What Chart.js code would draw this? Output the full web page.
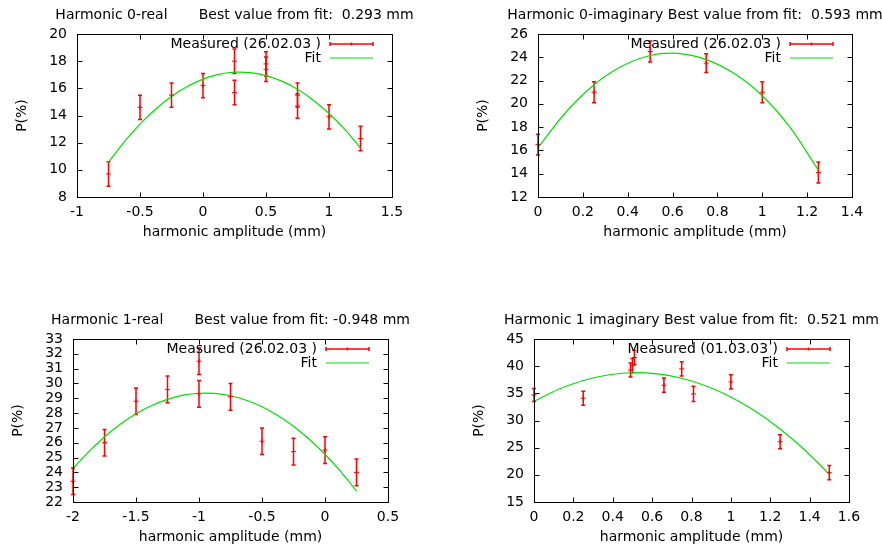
<!DOCTYPE html>
<html>
<head>
<meta charset="utf-8">
<script src="https://cdn.jsdelivr.net/npm/chart.js@4/dist/chart.umd.min.js"></script>
<style>
  html, body { margin: 0; padding: 0; background: #fff; }
  #wrap { position: relative; width: 882px; height: 548px; overflow: hidden; background: #fff; }
  canvas { position: absolute; }
</style>
</head>
<body>
<div id="wrap">
  <canvas id="c0" width="441" height="243" style="left:0;top:0"></canvas>
  <canvas id="c1" width="441" height="243" style="left:441px;top:0"></canvas>
  <canvas id="c2" width="441" height="243" style="left:0;top:305px"></canvas>
  <canvas id="c3" width="441" height="243" style="left:441px;top:305px"></canvas>
</div>
<script>
// Harmonic 0-real (26.02.03)
var h0reX   = [-0.75, -0.5, -0.25, 0, 0.25, 0.25, 0.5, 0.5, 0.75, 0.75, 1, 1.25];
var h0reY   = [9.7, 14.6, 15.5, 16.2, 18.0, 15.7, 17.8, 17.4, 15.5, 14.7, 13.9, 12.3];
var h0reErr = [0.9, 0.9, 0.9, 0.9, 0.9, 0.9, 0.9, 0.9, 0.9, 0.9, 0.9, 0.9];
var h0reFitX = [-0.75, -0.625, -0.5, -0.375, -0.25, -0.125, 0, 0.125, 0.25, 0.293, 0.375, 0.5, 0.625, 0.75, 0.875, 1, 1.125, 1.25];
var h0reFitY = [10.56, 12.06, 13.36, 14.48, 15.40, 16.13, 16.68, 17.03, 17.19, 17.2, 17.16, 16.94, 16.53, 15.93, 15.13, 14.15, 12.98, 11.61];

// Harmonic 0-imaginary (26.02.03)
var h0imX   = [0, 0.25, 0.5, 0.75, 1, 1.25];
var h0imY   = [16.5, 21.0, 24.5, 23.5, 21.0, 14.1];
var h0imErr = [0.9, 0.9, 0.9, 0.8, 0.9, 0.9];
var h0imFitX = [0, 0.125, 0.25, 0.375, 0.5, 0.593, 0.625, 0.75, 0.875, 1, 1.125, 1.25];
var h0imFitY = [16.25, 19.3, 21.64, 23.25, 24.15, 24.35, 24.33, 23.8, 22.6, 20.7, 17.95, 14.3];

// Harmonic 1-real (26.02.03)
var h1reX   = [-2, -1.75, -1.5, -1.25, -1, -1, -0.75, -0.5, -0.25, 0, 0.25];
var h1reY   = [23.4, 26.0, 28.8, 29.6, 31.5, 29.3, 29.1, 26.1, 25.4, 25.5, 24.0];
var h1reErr = [0.9, 0.9, 0.9, 0.9, 0.9, 0.9, 0.9, 0.9, 0.9, 0.9, 0.9];
var h1reFitX = [-2, -1.875, -1.75, -1.625, -1.5, -1.375, -1.25, -1.125, -1, -0.948, -0.875, -0.75, -0.625, -0.5, -0.375, -0.25, -0.125, 0, 0.125, 0.25];
var h1reFitY = [24.26, 25.40, 26.39, 27.24, 27.95, 28.51, 28.93, 29.21, 29.34, 29.35, 29.33, 29.17, 28.87, 28.43, 27.84, 27.11, 26.23, 25.22, 24.05, 22.75];

// Harmonic 1 imaginary (01.03.03)
var h1imX   = [0, 0.25, 0.49, 0.5, 0.51, 0.66, 0.75, 0.81, 1, 1.25, 1.5];
var h1imY   = [34.7, 34.1, 39.3, 40.1, 41.6, 36.5, 39.5, 34.9, 37.1, 26.1, 20.4];
var h1imErr = [1.2, 1.3, 1.3, 1.3, 1.3, 1.3, 1.3, 1.4, 1.3, 1.3, 1.3];
var h1imFitX = [0, 0.125, 0.25, 0.375, 0.5, 0.521, 0.625, 0.75, 0.875, 1, 1.125, 1.25, 1.375, 1.5];
var h1imFitY = [33.51, 35.74, 37.37, 38.38, 38.79, 38.8, 38.59, 37.78, 36.36, 34.33, 31.69, 28.44, 24.58, 20.11];

var RED = '#ff0000';
var GREEN = '#00e000';
var FONT = 'DejaVu Sans';

Chart.defaults.font.family = FONT;
Chart.defaults.font.size = 14;
Chart.defaults.color = '#000';

function pairs(xs, ys) {
    return xs.map(function(x, i) { return {x: x, y: ys[i]}; });
}

function fmt(v) {
    return String(Math.round(v * 100) / 100);
}

var gnuplotLook = {
    id: 'gnuplotLook',
    beforeDatasetsDraw: function(chart) {
        var ctx = chart.ctx, xs = chart.scales.x, ys = chart.scales.y;
        var ds = chart.data.datasets[0];
        ctx.save();
        ctx.strokeStyle = RED;
        ctx.lineWidth = 1.5;
        ds.data.forEach(function(p, i) {
            var px = xs.getPixelForValue(p.x);
            var top = ys.getPixelForValue(p.y + ds.errs[i]);
            var bot = ys.getPixelForValue(p.y - ds.errs[i]);
            ctx.beginPath();
            ctx.moveTo(px, top); ctx.lineTo(px, bot);
            ctx.moveTo(px - 2, top); ctx.lineTo(px + 2, top);
            ctx.moveTo(px - 2, bot); ctx.lineTo(px + 2, bot);
            ctx.stroke();
        });
        ctx.restore();
    },
    afterDraw: function(chart) {
        var o = chart.options.plugins.gnuplotLook;
        var ctx = chart.ctx, a = chart.chartArea;
        var xs = chart.scales.x, ys = chart.scales.y;
        var l = Math.round(a.left) + 0.5, r = Math.round(a.right) + 0.5;
        var t = Math.round(a.top) + 0.5, b = Math.round(a.bottom) + 0.5;
        ctx.save();
        // frame
        ctx.strokeStyle = '#000';
        ctx.lineWidth = 1;
        ctx.strokeRect(l, t, r - l, b - t);
        // inward mirrored ticks
        ctx.beginPath();
        xs.ticks.forEach(function(tk) {
            var px = Math.round(xs.getPixelForValue(tk.value)) + 0.5;
            ctx.moveTo(px, b); ctx.lineTo(px, b - 5);
            ctx.moveTo(px, t); ctx.lineTo(px, t + 5);
        });
        ys.ticks.forEach(function(tk) {
            var py = Math.round(ys.getPixelForValue(tk.value)) + 0.5;
            ctx.moveTo(l, py); ctx.lineTo(l + 5, py);
            ctx.moveTo(r, py); ctx.lineTo(r - 5, py);
        });
        ctx.stroke();
        // title
        ctx.font = '14px "' + FONT + '"';
        ctx.fillStyle = '#000';
        ctx.textBaseline = 'middle';
        ctx.textAlign = 'center';
        ctx.fillText(o.title, (a.left + a.right) / 2, a.top - 19);
        // key
        var ds = chart.data.datasets;
        var ky1 = a.top + 10, ky2 = a.top + 24;
        var kx1 = a.right - 62, kx2 = a.right - 19;
        ctx.textAlign = 'right';
        ctx.fillText(ds[0].label, a.right - 71, ky1);
        ctx.fillText(ds[1].label, a.right - 71, ky2);
        ctx.strokeStyle = RED;
        ctx.lineWidth = 1.5;
        ctx.beginPath();
        ctx.moveTo(kx1, ky1); ctx.lineTo(kx2, ky1);
        ctx.moveTo(kx1, ky1 - 2); ctx.lineTo(kx1, ky1 + 2);
        ctx.moveTo(kx2, ky1 - 2); ctx.lineTo(kx2, ky1 + 2);
        var km = (kx1 + kx2) / 2;
        ctx.moveTo(km, ky1 - 1.5); ctx.lineTo(km, ky1 + 1.5);
        ctx.stroke();
        ctx.strokeStyle = GREEN;
        ctx.lineWidth = 1.2;
        ctx.beginPath();
        ctx.moveTo(kx1, ky2); ctx.lineTo(kx2, ky2);
        ctx.stroke();
        ctx.restore();
    }
};

function makePanel(id, title, label, xv, yv, ev, fx, fy, xr, yr, padL, padR) {
    var ctx = document.getElementById(id).getContext('2d');
    return new Chart(ctx, {
        type: 'scatter',
        data: {
            datasets: [{
                label: label,
                data: pairs(xv, yv),
                errs: ev,
                showLine: false,
                pointStyle: 'cross',
                pointRadius: 2.5,
                borderColor: RED,
                backgroundColor: RED,
                borderWidth: 1,
                clip: false
            }, {
                label: 'Fit',
                data: pairs(fx, fy),
                showLine: true,
                fill: false,
                pointRadius: 0,
                borderColor: GREEN,
                borderWidth: 1.2,
                cubicInterpolationMode: 'monotone'
            }]
        },
        options: {
            responsive: false,
            animation: false,
            events: [],
            layout: { padding: { left: padL, right: padR, top: 34, bottom: 1 } },
            plugins: {
                legend: { display: false },
                tooltip: { enabled: false },
                gnuplotLook: { title: title }
            },
            scales: {
                x: {
                    type: 'linear',
                    min: xr[0], max: xr[1],
                    grid: { display: false, drawTicks: false },
                    border: { display: false },
                    ticks: { stepSize: xr[2], padding: 7, autoSkip: false, maxRotation: 0, minRotation: 0, callback: fmt },
                    title: { display: true, text: 'harmonic amplitude (mm)', padding: { top: 0, bottom: 1.6 } },
                    afterFit: function(s) { s.height = 45; }
                },
                y: {
                    type: 'linear',
                    min: yr[0], max: yr[1],
                    grid: { display: false, drawTicks: false },
                    border: { display: false },
                    ticks: { stepSize: yr[2], padding: 10, autoSkip: false, callback: fmt },
                    title: { display: true, text: 'P(%)', padding: { top: 1, bottom: 0 } },
                    afterFit: function(s) { s.width = 64; }
                }
            }
        },
        plugins: [gnuplotLook]
    });
}

makePanel('c0', 'Harmonic 0-real       Best value from fit:  0.293 mm', 'Measured (26.02.03 )',
    h0reX, h0reY, h0reErr, h0reFitX, h0reFitY, [-1, 1.5, 0.5], [8, 20, 2], 13, 49);
makePanel('c1', 'Harmonic 0-imaginary Best value from fit:  0.593 mm', 'Measured (26.02.03 )',
    h0imX, h0imY, h0imErr, h0imFitX, h0imFitY, [0, 1.4, 0.2], [12, 26, 2], 33, 30);
makePanel('c2', 'Harmonic 1-real       Best value from fit: -0.948 mm', 'Measured (26.02.03 )',
    h1reX, h1reY, h1reErr, h1reFitX, h1reFitY, [-2, 0.5, 0.5], [22, 33, 1], 9, 53);
makePanel('c3', 'Harmonic 1 imaginary Best value from fit:  0.521 mm', 'Measured (01.03.03 )',
    h1imX, h1imY, h1imErr, h1imFitX, h1imFitY, [0, 1.6, 0.2], [15, 45, 5], 29, 33);
</script>
</body>
</html>
